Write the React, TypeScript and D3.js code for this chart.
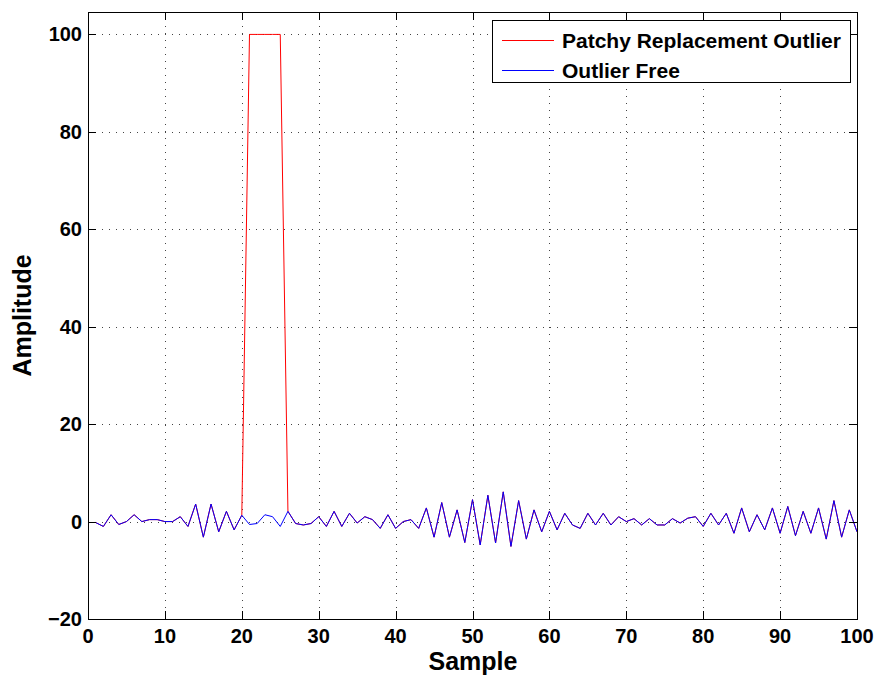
import { useEffect, useRef } from 'react';
import * as d3 from 'd3';

// sample index 1..100
const samples: number[] = d3.range(1, 101);

const outlierFree: number[] = [
  -0.2, -1.0, 1.4, -0.6, 0.0, 1.4, 0.0, 0.4, 0.4, 0.0,
  0.0, 1.0, -1.0, 3.6, -3.2, 3.6, -2.1, 2.1, -1.7, 1.3,
  -0.6, -0.4, 1.4, 1.0, -1.0, 2.1, -0.4, -0.7, -0.4, 1.0,
  -1.0, 2.1, -1.0, 1.7, -0.3, 1.0, 0.4, -1.4, 1.4, -1.4,
  0.0, 0.4, -1.4, 2.8, -3.2, 3.9, -3.2, 2.4, -4.3, 4.5,
  -4.8, 5.4, -4.4, 6.1, -5.1, 4.3, -3.6, 2.4, -2.1, 2.1,
  -1.7, 1.7, -0.7, -1.4, 1.7, -0.7, 1.7, -0.7, 1.0, 0.0,
  0.6, -0.7, 0.6, -0.7, -0.7, 0.6, -0.3, 0.7, 1.0, -1.0,
  1.7, -0.7, 1.7, -2.4, 2.8, -2.1, 1.4, -1.7, 2.8, -2.4,
  3.1, -2.9, 2.1, -2.4, 2.8, -3.6, 4.3, -3.2, 2.4, -2.1,
];

const patchyOutlier: number[] = [
  -0.2, -1.0, 1.4, -0.6, 0.0, 1.4, 0.0, 0.4, 0.4, 0.0,
  0.0, 1.0, -1.0, 3.6, -3.2, 3.6, -2.1, 2.1, -1.7, 1.3,
  100, 100, 100, 100, 100, 2.1, -0.4, -0.7, -0.4, 1.0,
  -1.0, 2.1, -1.0, 1.7, -0.3, 1.0, 0.4, -1.4, 1.4, -1.4,
  0.0, 0.4, -1.4, 2.8, -3.2, 3.9, -3.2, 2.4, -4.3, 4.5,
  -4.8, 5.4, -4.4, 6.1, -5.1, 4.3, -3.6, 2.4, -2.1, 2.1,
  -1.7, 1.7, -0.7, -1.4, 1.7, -0.7, 1.7, -0.7, 1.0, 0.0,
  0.6, -0.7, 0.6, -0.7, -0.7, 0.6, -0.3, 0.7, 1.0, -1.0,
  1.7, -0.7, 1.7, -2.4, 2.8, -2.1, 1.4, -1.7, 2.8, -2.4,
  3.1, -2.9, 2.1, -2.4, 2.8, -3.6, 4.3, -3.2, 2.4, -2.1,
];

const xTicks: number[] = [0, 10, 20, 30, 40, 50, 60, 70, 80, 90, 100];
const yTicks: number[] = [-20, 0, 20, 40, 60, 80, 100];

const legendLabels: string[] = ['Patchy Replacement Outlier', 'Outlier Free'];
const legendColors: string[] = ['#ff0000', '#0000ff'];

const App = () => {
  const svgRef = useRef<SVGSVGElement | null>(null);

  useEffect(() => {
    document.body.style.margin = '0';
    const svg = d3.select(svgRef.current);
    svg.selectAll('*').remove();

    const W = 877, H = 677;
    const left = 88, right = 857, top = 12, bottom = 619;
    const font = '"Liberation Sans", Arial, Helvetica, sans-serif';

    svg.attr('width', W).attr('height', H);

    const x = d3.scaleLinear().domain([0, 100]).range([left, right]);
    const y = d3.scaleLinear().domain([-20, 104.6]).range([bottom, top]);

    svg.append('rect').attr('width', W).attr('height', H).attr('fill', '#fff');

    // grid
    const grid = svg.append('g')
      .attr('stroke', '#444')
      .attr('stroke-width', 1)
      .attr('stroke-dasharray', '1,6');
    grid.selectAll('.gx')
      .data(xTicks.slice(1, -1))
      .enter().append('line')
      .attr('x1', d => Math.round(x(d)) + 0.5).attr('x2', d => Math.round(x(d)) + 0.5)
      .attr('y1', top).attr('y2', bottom);
    grid.selectAll('.gy')
      .data(yTicks.slice(1))
      .enter().append('line')
      .attr('y1', d => Math.round(y(d)) + 0.5).attr('y2', d => Math.round(y(d)) + 0.5)
      .attr('x1', left).attr('x2', right);

    // series
    const line = d3.line<number>()
      .x((d, i) => x(samples[i]))
      .y(d => y(d));

    svg.append('path')
      .attr('d', line(patchyOutlier))
      .style('fill', 'none')
      .style('stroke', legendColors[0])
      .style('stroke-width', 1);
    svg.append('path')
      .attr('d', line(outlierFree))
      .style('fill', 'none')
      .style('stroke', legendColors[1])
      .style('stroke-width', 1);

    // box
    svg.append('rect')
      .attr('x', left + 0.5).attr('y', top + 0.5)
      .attr('width', right - left).attr('height', bottom - top)
      .attr('fill', 'none').attr('stroke', '#000').attr('stroke-width', 1);

    // ticks (inward, on all sides)
    const tl = 8;
    const ticks = svg.append('g').attr('stroke', '#000').attr('stroke-width', 1);
    xTicks.forEach(t => {
      const px = Math.round(x(t)) + 0.5;
      ticks.append('line').attr('x1', px).attr('x2', px).attr('y1', bottom).attr('y2', bottom - tl);
      ticks.append('line').attr('x1', px).attr('x2', px).attr('y1', top).attr('y2', top + tl);
    });
    yTicks.forEach(t => {
      const py = Math.round(y(t)) + 0.5;
      ticks.append('line').attr('y1', py).attr('y2', py).attr('x1', left).attr('x2', left + tl);
      ticks.append('line').attr('y1', py).attr('y2', py).attr('x1', right).attr('x2', right - tl);
    });

    // tick labels
    svg.selectAll('.xl')
      .data(xTicks)
      .enter().append('text')
      .attr('x', d => x(d))
      .attr('y', bottom + 24)
      .attr('text-anchor', 'middle')
      .style('font-family', font)
      .style('font-weight', 'bold')
      .style('font-size', '20px')
      .text(d => String(d));

    svg.selectAll('.yl')
      .data(yTicks)
      .enter().append('text')
      .attr('x', left - 6)
      .attr('y', d => y(d) + 7)
      .attr('text-anchor', 'end')
      .style('font-family', font)
      .style('font-weight', 'bold')
      .style('font-size', '20px')
      .text(d => (d < 0 ? '\u2212' + Math.abs(d) : String(d)));

    // axis titles
    svg.append('text')
      .attr('x', 473)
      .attr('y', 670)
      .attr('text-anchor', 'middle')
      .style('font-family', font)
      .style('font-weight', 'bold')
      .style('font-size', '25px')
      .text('Sample');

    svg.append('text')
      .attr('transform', `translate(31,${(top + bottom) / 2}) rotate(-90)`)
      .attr('text-anchor', 'middle')
      .style('font-family', font)
      .style('font-weight', 'bold')
      .style('font-size', '25px')
      .text('Amplitude');

    // legend
    const lg = svg.append('g');
    lg.append('rect')
      .attr('x', 492.5).attr('y', 20.5)
      .attr('width', 358).attr('height', 62)
      .attr('fill', '#fff').attr('stroke', '#000').attr('stroke-width', 1);
    legendLabels.forEach((label, i) => {
      const cy = 40 + i * 30;
      lg.append('line')
        .attr('x1', 502).attr('x2', 554)
        .attr('y1', cy + 0.5).attr('y2', cy + 0.5)
        .style('stroke', legendColors[i]).style('stroke-width', 1.2);
      lg.append('text')
        .attr('x', 562)
        .attr('y', cy + 7.5)
        .style('font-family', font)
        .style('font-weight', 'bold')
        .style('font-size', '21px')
        .text(label);
    });
  }, []);

  return <svg ref={svgRef} style={{ display: 'block' }}></svg>;
};

export default App;
